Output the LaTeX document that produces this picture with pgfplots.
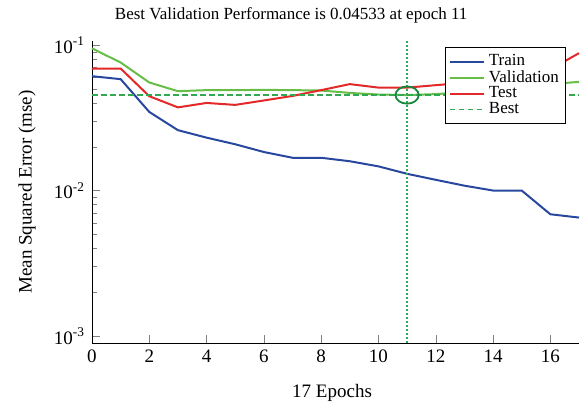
\documentclass[border=0pt]{standalone}
\usepackage{fontspec}
\setmainfont{Liberation Serif}
\usepackage{pgfplots}
\pgfplotsset{compat=1.18}

\definecolor{trainc}{RGB}{40,72,160}
\definecolor{validc}{RGB}{102,190,70}
\definecolor{testc}{RGB}{226,40,40}
\definecolor{bestc}{RGB}{50,168,80}
\definecolor{circc}{RGB}{25,135,60}

\begin{document}
\begin{tikzpicture}
\begin{semilogyaxis}[
    scale only axis,
    width=243.5pt, height=151pt,
    xmin=0, xmax=17,
    ymin=0.000895, ymax=0.1066,
    axis x line*=bottom, axis y line*=left,
    tick align=inside,
    xtick={0,2,...,16},
    ytick={0.001,0.01,0.1},
    yticklabels={10\textsuperscript{-3},10\textsuperscript{-2},10\textsuperscript{-1}},
    /pgf/number format/assume math mode=true,
    tick label style={font=\fontsize{9.5}{11}\selectfont},
    major tick length=4pt, minor tick length=2.5pt,
    title={Best Validation Performance is 0.04533 at epoch 11},
    title style={at={(0.409,1.0463)}, anchor=center, font=\fontsize{8.5}{10}\selectfont},
    xlabel={17 Epochs},
    xlabel style={at={(0.493,-0.1656)}, anchor=center, font=\fontsize{9.5}{11}\selectfont},
    ylabel={Mean Squared Error (mse)},
    ylabel style={at={(-0.1335,0.5)}, anchor=center, font=\fontsize{9.5}{11}\selectfont},
    legend style={at={(0.974,0.980)}, anchor=north east, draw=black, line width=0.5pt,
        font=\fontsize{8.5}{10}\selectfont, inner sep=1.5pt, row sep=-3.2pt,
        legend cell align=left},
    clip=false,
]
\addplot[trainc, line width=1pt] coordinates {
    (0,0.0611)(1,0.0583)(2,0.0347)(3,0.0260)(4,0.0231)(5,0.0208)(6,0.0184)
    (7,0.0168)(8,0.0168)(9,0.0159)(10,0.01466)(11,0.01303)(12,0.01185)
    (13,0.0108)(14,0.0100)(15,0.0100)(16,0.00687)(17,0.00652)
};
\addlegendentry{Train}
\addplot[validc, line width=1pt] coordinates {
    (0,0.0949)(1,0.0759)(2,0.0553)(3,0.0482)(4,0.0490)(5,0.0490)(6,0.0492)
    (7,0.0490)(8,0.0487)(9,0.0469)(10,0.0457)(11,0.04533)(12,0.0460)
    (13,0.0475)(14,0.0495)(15,0.0515)(16,0.0540)(17,0.0558)
};
\addlegendentry{Validation}
\addplot[testc, line width=1pt] coordinates {
    (0,0.0690)(1,0.0690)(2,0.0445)(3,0.0373)(4,0.0400)(5,0.0388)(6,0.0416)
    (7,0.0447)(8,0.0490)(9,0.0539)(10,0.0510)(11,0.0510)(12,0.0530)
    (13,0.0550)(14,0.0580)(15,0.0620)(16,0.0680)(17,0.0880)
};
\addlegendentry{Test}
\addplot[bestc, line width=0.8pt, dash pattern=on 2.8pt off 1.7pt] coordinates {
    (0,0.04533)(17,0.04533)
};
\addlegendentry{Best}
\addplot[bestc, line width=0.8pt, dash pattern=on 0.8pt off 1.2pt, forget plot] coordinates {
    (11,0.000895)(11,0.1066)
};
\addplot[circc, line width=0.9pt, only marks, mark=o,
    mark size=4.3pt, mark options={xscale=1.35}, forget plot] coordinates {
    (11,0.04533)
};
\path (axis description cs:-0.1889,-0.2252) rectangle (axis description cs:1.0144,1.1358);
\end{semilogyaxis}
\end{tikzpicture}
\end{document}
